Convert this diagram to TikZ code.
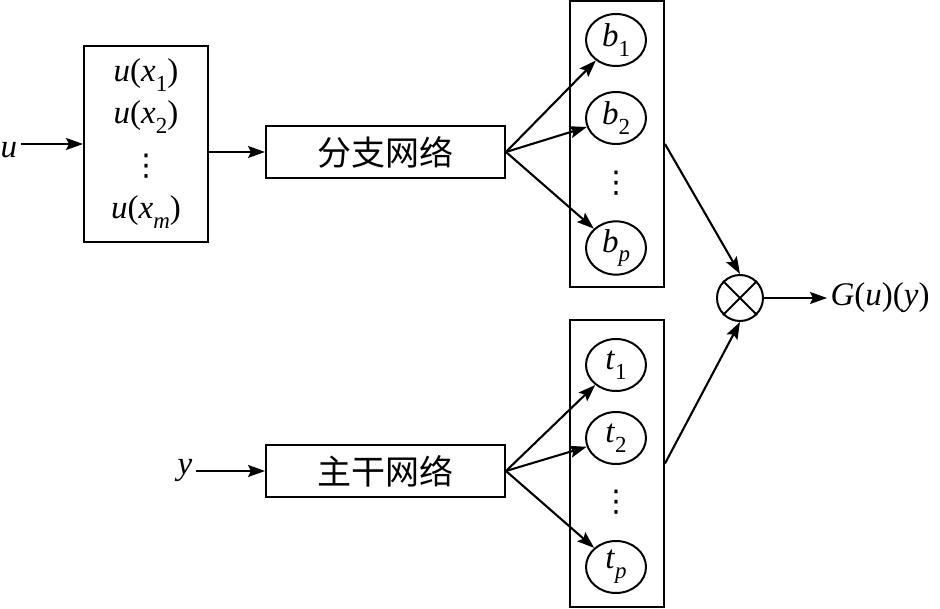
\documentclass[tikz,border=0pt]{standalone}
\usepackage{fontspec}
\setmainfont{Liberation Serif}
\newfontfamily\cjk{Noto Sans CJK SC}
\newfontfamily\dv{DejaVu Sans}
\usetikzlibrary{arrows.meta,shapes.geometric}
\newcommand\sbx[1]{\raisebox{-0.3em}{\fontsize{23}{23}\selectfont #1}}
\tikzset{
  every node/.style={font=\fontsize{33}{38}\selectfont},
  box/.style={draw, line width=2pt, inner sep=0pt},
  ell/.style={draw, ellipse, line width=2pt, minimum width=60pt, minimum height=52pt, inner sep=0pt},
  conn/.style={line width=2.1pt, -{Stealth[length=17pt,width=12pt,inset=3pt]}},
  lbl/.style={inner sep=0pt},
  vd/.style={inner sep=0pt, font=\dv\fontsize{30}{30}\selectfont},
  cn/.style={box, minimum width=239pt, minimum height=52pt, font=\cjk\fontsize{34}{38}\selectfont}
}
\begin{document}
\begin{tikzpicture}[x=1pt,y=-1pt]
\useasboundingbox (0,0) rectangle (940,609);
% input
\node (u) at (9,150) {\textit{u}};
\node[box, minimum width=124pt, minimum height=196pt] (inbox) at (146,144) {};
\node[lbl] (ux1) at (146,75) {\textit{u}(\textit{x}\sbx{1})};
\node[lbl] (ux2) at (146,117) {\textit{u}(\textit{x}\sbx{2})};
\node[vd] (ud) at (146,166) {⋮};
\node[lbl] (uxm) at (146,212) {\textit{u}(\textit{x}\sbx{\textit{m}})};
% branch / trunk
\node[cn] (br) at (385.5,152) {分支网络};
\node[cn] (tr) at (385.5,471) {主干网络};
\node (y) at (185,470) {\textit{y}};
% columns
\node[box, minimum width=94pt, minimum height=286pt] (topcol) at (617,144) {};
\node[box, minimum width=94pt, minimum height=287pt] (botcol) at (617,463.5) {};
\node[ell] (b1) at (616,40) {\textit{b}\sbx{1}};
\node[ell] (b2) at (616,118) {\textit{b}\sbx{2}};
\node[vd] (bd) at (616,183) {⋮};
\node[ell] (bp) at (616,248) {\textit{b}\sbx{\textit{p}}};
\node[ell] (t1) at (616,365) {\textit{t}\sbx{1}};
\node[ell] (t2) at (616,438) {\textit{t}\sbx{2}};
\node[vd] (td) at (616,502) {⋮};
\node[ell] (tp) at (616,567) {\textit{t}\sbx{\textit{p}}};
% product
\node[draw, circle, line width=2pt, minimum size=46pt, inner sep=0pt] (ot) at (740,298) {};
\draw[line width=2pt] (ot.north west) -- (ot.south east) (ot.north east) -- (ot.south west);
\node[anchor=west] (G) at (827,298) {\textit{G}(\textit{u})(\textit{y})};
% connectors
\draw[conn] (u.east |- inbox.west) -- (inbox.west);
\draw[conn] (inbox.east |- br.west) -- (br.west);
\draw[conn] (y.east |- tr.west) -- (tr.west);
\draw[conn] (br.east) -- (b1);
\draw[conn] (br.east) -- (b2);
\draw[conn] (br.east) -- (bp);
\draw[conn] (tr.east) -- (t1);
\draw[conn] (tr.east) -- (t2);
\draw[conn] (tr.east) -- (tp);
\draw[conn] (topcol.east) -- (ot.north);
\draw[conn] (botcol.east) -- (ot.south);
\draw[conn] (ot.east) -- (G.west);
\end{tikzpicture}
\end{document}
